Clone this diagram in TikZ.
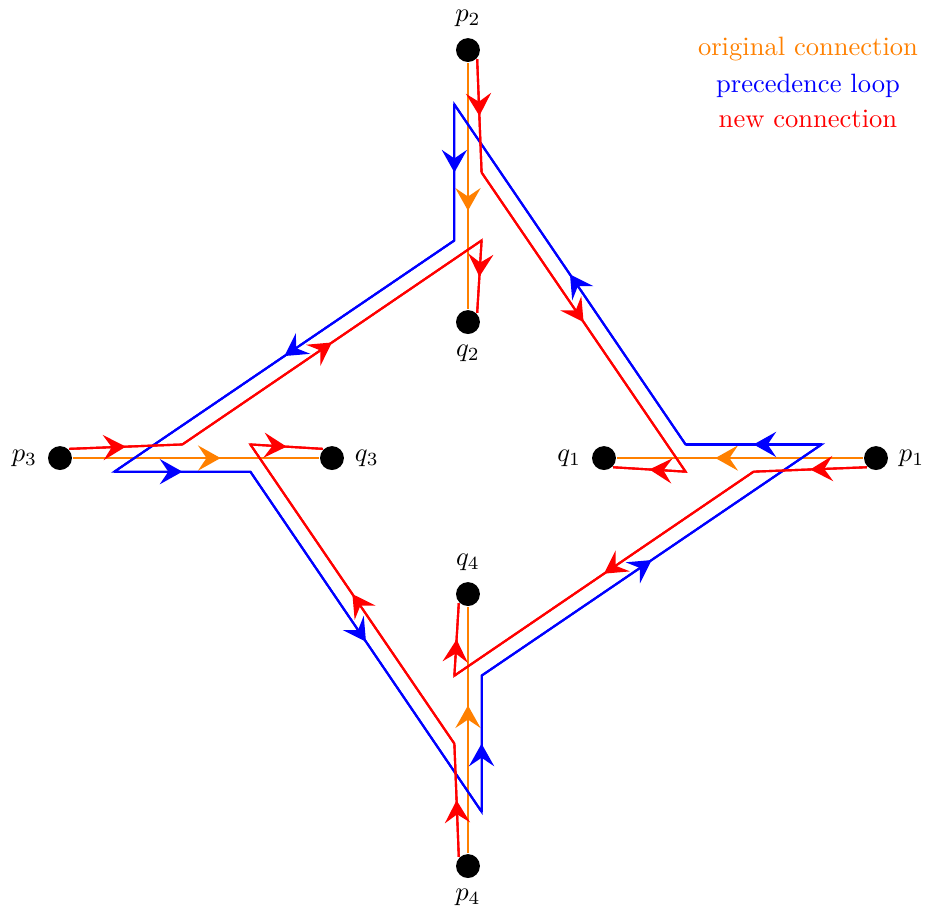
\documentclass[tikz,border=0pt]{standalone}
\usepackage{tikz}
\usetikzlibrary{arrows.meta,positioning,decorations.markings,calc}
\definecolor{origcol}{RGB}{255,128,0}
\definecolor{loopcol}{RGB}{0,0,255}
\definecolor{newcol}{RGB}{255,0,0}
\tikzset{
  pt/.style={circle, fill=black, inner sep=0pt, minimum size=9pt},
  midarrow/.style={postaction={decorate},
    decoration={markings, mark=at position #1 with {\arrow{Stealth[length=8.5pt,width=9.5pt,inset=3.2pt]}}}},
  midarrow/.default=0.5
}

\begin{document}
\begin{tikzpicture}[x=1.8cm, y=1.8cm, thick]
  \useasboundingbox (-3.441,-3.331) rectangle (3.375,3.368);

  % end points of the four original connections
  \node[pt, label={right:$p_1$}] (p1) at (3,0) {};
  \node[pt, label={left:$q_1$}] (q1) at (1,0) {};
  \node[pt, label={above:$p_2$}] (p2) at (0,3) {};
  \node[pt, label={below:$q_2$}] (q2) at (0,1) {};
  \node[pt, label={left:$p_3$}] (p3) at (-3,0) {};
  \node[pt, label={right:$q_3$}] (q3) at (-1,0) {};
  \node[pt, label={below:$p_4$}] (p4) at (0,-3) {};
  \node[pt, label={above:$q_4$}] (q4) at (0,-1) {};

  % original connections
  \foreach \i in {1,...,4}
    \draw[origcol, midarrow=0.6] (p\i) -- (q\i);

  % precedence loop
  \coordinate (b1) at (-0.1,2.6);
  \coordinate (b2) at (-0.1,1.6);
  \coordinate (b3) at (-2.6,-0.1);
  \coordinate (b4) at (-1.6,-0.1);
  \coordinate (b5) at (0.1,-2.6);
  \coordinate (b6) at (0.1,-1.6);
  \coordinate (b7) at (2.6,0.1);
  \coordinate (b8) at (1.6,0.1);
  \draw[loopcol] (b1) -- (b2) -- (b3) -- (b4) -- (b5) -- (b6) -- (b7) -- (b8) -- cycle;
  \foreach \a/\b in {b1/b2, b2/b3, b3/b4, b4/b5, b5/b6, b6/b7, b7/b8, b8/b1}
    \draw[loopcol, midarrow] (\a) -- (\b);

  % new connections
  \coordinate (a1) at (0.1,2.1);   \coordinate (c1) at (1.6,-0.1);
  \coordinate (a2) at (-2.1,0.1);  \coordinate (c2) at (0.1,1.6);
  \coordinate (a3) at (-0.1,-2.1); \coordinate (c3) at (-1.6,0.1);
  \coordinate (a4) at (2.1,-0.1);  \coordinate (c4) at (-0.1,-1.6);
  \foreach \i/\s/\t in {1/p2.south east/q1.south east,
                        2/p3.north east/q2.north east,
                        3/p4.north west/q3.north west,
                        4/p1.south west/q4.south west} {
    \draw[newcol] (\s) -- (a\i) -- (c\i) -- (\t);
    \draw[newcol, midarrow] (\s) -- (a\i);
    \draw[newcol, midarrow] (a\i) -- (c\i);
    \draw[newcol, midarrow] (c\i) -- (\t);
  }

  % legend
  \node[origcol, anchor=base] (lorig) at (2.5,2.958) {original connection};
  \node[loopcol, anchor=base] (lloop) at (2.5,2.69) {precedence loop};
  \node[newcol, anchor=base] (lnew) at (2.5,2.434) {new connection};
\end{tikzpicture}
\end{document}
